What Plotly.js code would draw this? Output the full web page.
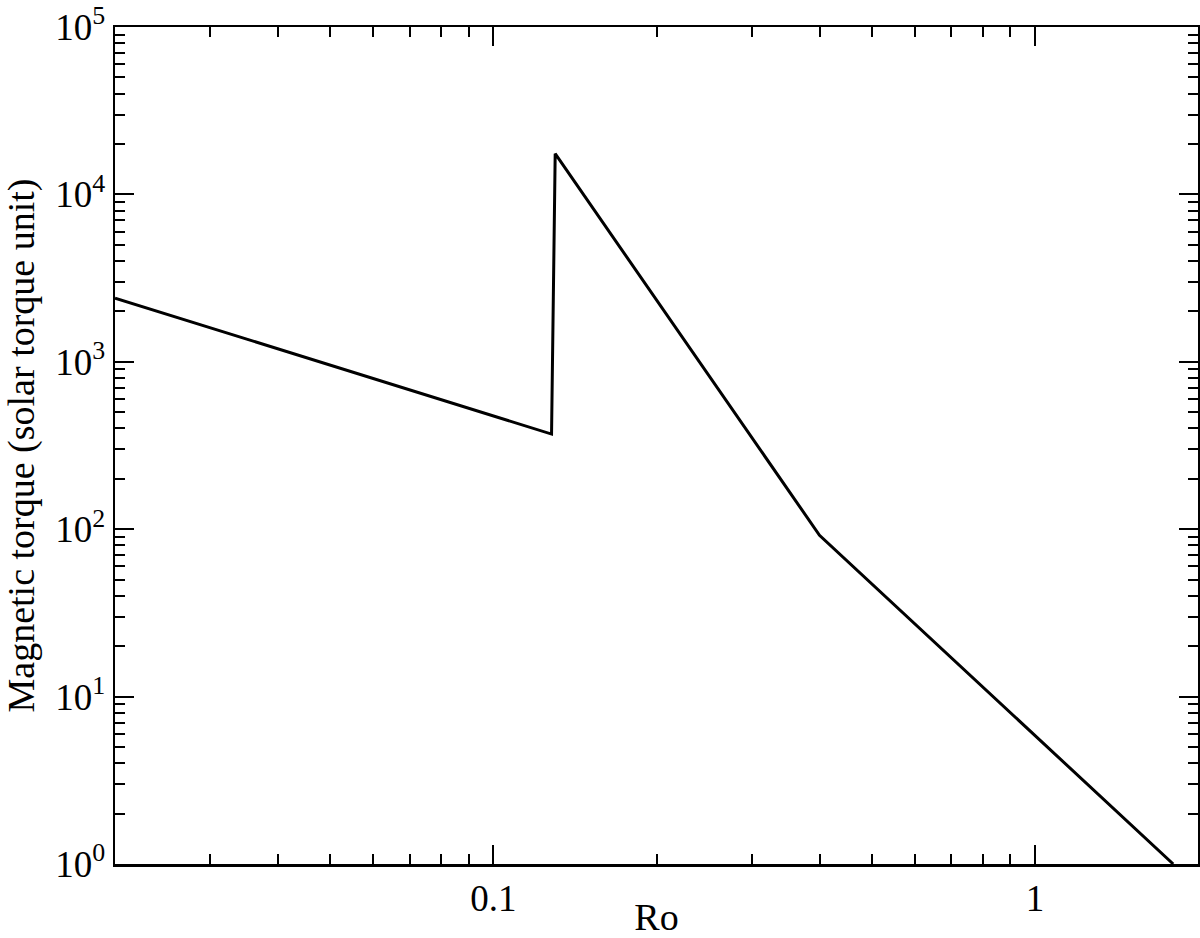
<!DOCTYPE html>
<html>
<head>
<meta charset="utf-8">
<script src="https://cdn.plot.ly/plotly-3.0.1.min.js"></script>
<style>html,body{margin:0;padding:0;background:#fff;}#chart{width:1200px;height:938px;}</style>
</head>
<body>
<div id="chart"></div>
<script>
// Data
const rossby = [0.02, 0.128, 0.13, 0.4, 1.8];
const torque = [2400, 370, 17500, 92, 1];

const yTickVals = [1, 10, 100, 1000, 10000, 100000];
const yTickText = ['10<sup>0</sup>', '10<sup>1</sup>', '10<sup>2</sup>', '10<sup>3</sup>', '10<sup>4</sup>', '10<sup>5</sup>'];
const xTickVals = [0.1, 1];
const xTickText = ['0.1', '1'];
const xMinorVals = [0.03, 0.04, 0.05, 0.06, 0.07, 0.08, 0.09, 0.2, 0.3, 0.4, 0.5, 0.6, 0.7, 0.8, 0.9];
const yMinorMantissas = [2, 3, 4, 5, 6, 7, 8, 9];

const yMinorVals = [];
for (const dec of [1, 10, 100, 1000, 10000]) {
  for (const m of yMinorMantissas) yMinorVals.push(m * dec);
}

const fontFam = '"Liberation Serif", "Times New Roman", serif';

const trace = {
  x: rossby,
  y: torque,
  type: 'scatter',
  mode: 'lines',
  line: {color: '#000', width: 3},
  hoverinfo: 'skip'
};

function axisCommon(minorVals) {
  return {
    type: 'log',
    showline: true,
    linecolor: '#000',
    linewidth: 2.5,
    mirror: 'ticks',
    ticks: 'inside',
    ticklen: 19,
    tickwidth: 2,
    tickcolor: '#000',
    showgrid: false,
    zeroline: false,
    tickfont: {family: fontFam, size: 37, color: '#000'},
    minor: {tickmode: 'array', tickvals: minorVals, ticks: 'inside', ticklen: 10, tickwidth: 2, tickcolor: '#000', showgrid: false}
  };
}

const layout = {
  width: 1200,
  height: 938,
  margin: {l: 115, r: 2, t: 27, b: 74},
  paper_bgcolor: '#fff',
  plot_bgcolor: '#fff',
  showlegend: false,
  font: {family: fontFam, color: '#000', size: 36},
  xaxis: Object.assign(axisCommon(xMinorVals), {
    range: [Math.log10(0.02), Math.log10(2)],
    tickmode: 'array',
    tickvals: xTickVals,
    ticktext: xTickText,
    title: {text: 'Ro', font: {family: fontFam, size: 38, color: '#000'}, standoff: 14}
  }),
  yaxis: Object.assign(axisCommon(yMinorVals), {
    range: [0, 5],
    tickmode: 'array',
    tickvals: yTickVals,
    ticktext: yTickText,
    title: {text: 'Magnetic torque (solar torque unit)', font: {family: fontFam, size: 38, color: '#000'}, standoff: 10}
  })
};

Plotly.newPlot('chart', [trace], layout, {displayModeBar: false, staticPlot: true});
</script>
</body>
</html>
